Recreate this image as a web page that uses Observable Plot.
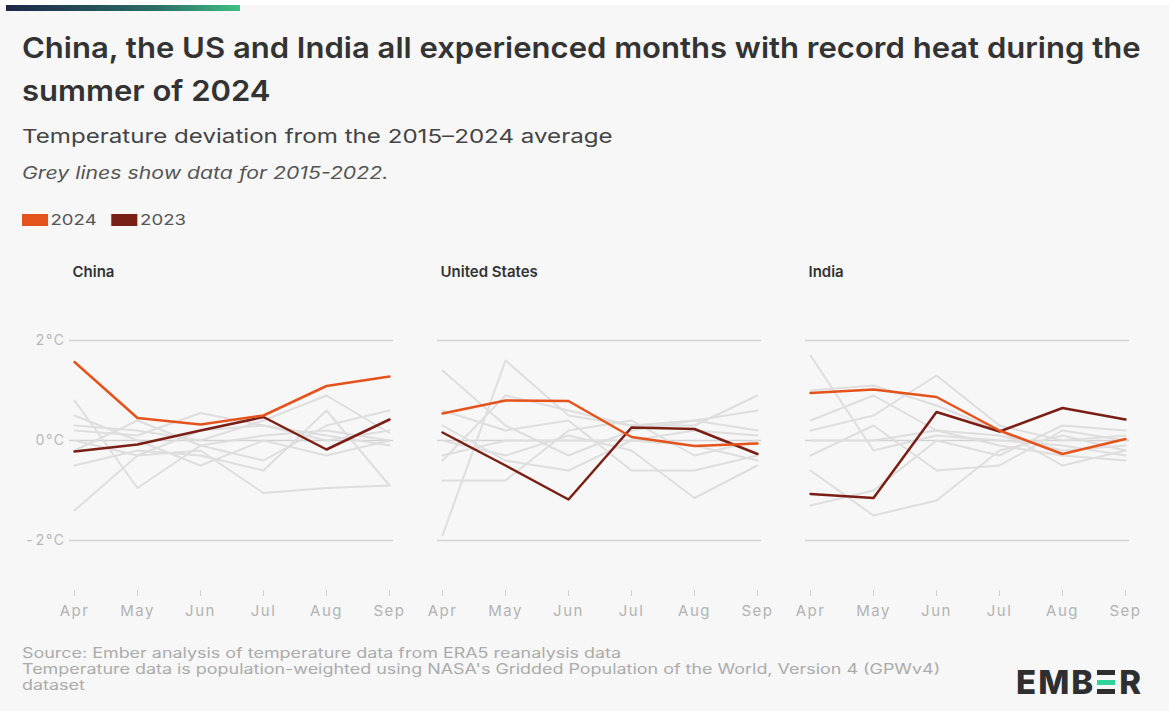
<!DOCTYPE html>
<html>
<head>
<meta charset="utf-8">
<script src="https://cdn.jsdelivr.net/npm/d3@7"></script>
<script src="https://cdn.jsdelivr.net/npm/@observablehq/plot@0.6"></script>
<style>
  html, body { margin:0; padding:0; background:#f7f7f7; }
  body { width:1169px; height:711px; position:relative; overflow:hidden; font-family: Inter, "Noto Sans", sans-serif; }
  .topbar { position:absolute; left:6px; top:5px; width:234px; height:6px; background:linear-gradient(90deg,#1d2748,#2b6f68 65%,#3fbf86); }
  .topwhite { position:absolute; left:0; top:0; width:1169px; height:5px; background:#fff; }
  .sx { transform-origin: 0 50%; white-space: nowrap; }
  .title { position:absolute; left:22px; top:26px; font-size:29px; font-weight:600; line-height:43px; color:#333; transform: scaleX(1.07); transform-origin: 0 0; white-space:nowrap; }
  .subtitle { position:absolute; left:22px; top:125px; font-size:19px; line-height:24px; color:#444; transform: scaleX(1.27); }
  .note { position:absolute; left:22px; top:162px; font-size:17px; line-height:22px; color:#555; font-style:italic; transform: scaleX(1.25); }
  .legend { position:absolute; left:22px; top:211px; font-size:15px; line-height:18px; color:#555; display:flex; align-items:center; transform: scaleX(1.24); }
  .legend .sw { display:inline-block; width:21px; height:12px; margin-right:2px; }
  .legend .item { display:flex; align-items:center; margin-right:12px; }
  #chart { position:absolute; left:0; top:250px; }
  #chart svg g[aria-label="x-axis tick label"] text { letter-spacing: 1.5px; }
  #chart svg g[aria-label="y-axis tick label"] text { letter-spacing: 1.5px; }
  #chart svg g[aria-label="panel-title"] text { letter-spacing: 1.2px; }
  .footer { position:absolute; left:22px; top:645px; font-size:14px; line-height:16px; color:#ababab; transform: scaleX(1.28); transform-origin: 0 0; white-space:nowrap; }
  .logo { position:absolute; left:1016px; top:664px; font-size:33px; font-weight:800; color:#2f2f2f; letter-spacing:2px; line-height:36px; display:flex; align-items:center; }
  .logo .e { display:inline-flex; flex-direction:column; justify-content:space-between; width:18px; height:24px; margin:0 4px 0 2px; }
  .logo .e span { display:block; height:5px; }
</style>
</head>
<body>
<div class="topwhite"></div>
<div class="topbar"></div>
<div class="title">China, the US and India all experienced months with record heat during the<br>summer of 2024</div>
<div class="subtitle sx">Temperature deviation from the 2015–2024 average</div>
<div class="note sx">Grey lines show data for 2015-2022.</div>
<div class="legend sx" id="legend"></div>
<div id="chart"></div>
<div class="footer">Source: Ember analysis of temperature data from ERA5 reanalysis data<br>Temperature data is population-weighted using NASA's Gridded Population of the World, Version 4 (GPWv4)<br>dataset</div>
<div class="logo">EMB<span class="e"><span style="background:#2f2f2f"></span><span style="background:#2fd39a"></span><span style="background:#2f2f2f"></span></span>R</div>
<script>
const months = ["Apr","May","Jun","Jul","Aug","Sep"];
const countries = ["China","United States","India"];
const greyYears = ["2015","2016","2017","2018","2019","2020","2021","2022"];
const highlightYears = ["2023","2024"];
const yTicks = [-2, 0, 2];

// Temperature deviation (°C), Apr..Sep
const china2024 = [1.57, 0.45, 0.32, 0.5, 1.09, 1.28];
const china2023 = [-0.22, -0.08, 0.2, 0.47, -0.18, 0.42];
const chinaGrey = [
  [-1.4, -0.3, 0.2, 0.3, 0.1, -0.1],
  [0.8, -0.95, -0.1, 0.1, 0.2, 0.0],
  [0.2, 0.1, 0.55, 0.3, 0.0, 0.2],
  [0.3, 0.2, 0.0, 0.4, 0.9, 0.15],
  [0.0, -0.3, -0.2, -1.05, -0.95, -0.9],
  [-0.5, -0.2, -0.3, -0.6, 0.6, -0.9],
  [0.5, 0.0, -0.5, 0.0, -0.3, 0.0],
  [-0.2, 0.4, -0.1, -0.4, 0.3, 0.6]
];
const us2024 = [0.54, 0.8, 0.79, 0.07, -0.11, -0.06];
const us2023 = [0.16, -0.5, -1.18, 0.26, 0.23, -0.27];
const usGrey = [
  [-1.9, 1.6, 0.5, 0.3, 0.3, 0.9],
  [1.4, 0.3, -0.3, 0.2, 0.4, 0.2],
  [-0.8, -0.8, 0.2, 0.4, -0.3, 0.0],
  [-0.4, 0.9, 0.6, 0.3, 0.4, 0.6],
  [0.3, -0.4, -0.6, 0.0, -0.1, -0.4],
  [0.0, -0.3, 0.1, -0.2, -1.15, -0.5],
  [0.6, 0.2, 0.4, -0.6, -0.6, -0.3],
  [-0.3, 0.0, 0.0, 0.0, 0.2, 0.1]
];
const india2024 = [0.95, 1.02, 0.87, 0.2, -0.27, 0.03];
const india2023 = [-1.07, -1.15, 0.57, 0.18, 0.65, 0.42];
const indiaGrey = [
  [1.7, -0.2, 0.1, 0.0, -0.1, -0.3],
  [0.2, 0.5, 1.3, 0.3, 0.0, 0.1],
  [-0.6, -1.5, -1.2, -0.2, 0.1, -0.2],
  [-0.3, 0.3, -0.6, -0.5, 0.2, 0.0],
  [0.4, 0.9, 0.2, -0.1, -0.3, -0.4],
  [-1.3, -1.0, 0.0, -0.3, 0.3, 0.2],
  [0.0, 0.0, 0.2, 0.1, -0.2, -0.1],
  [1.0, 1.1, 0.7, 0.2, -0.5, -0.2]
];

const colors = {"2024": "#e5531d", "2023": "#7a1f15"};
const greyColor = "#dedede";

const series = {
  "China": {grey: chinaGrey, "2023": china2023, "2024": china2024},
  "United States": {grey: usGrey, "2023": us2023, "2024": us2024},
  "India": {grey: indiaGrey, "2023": india2023, "2024": india2024}
};

const rows = [];
for (const c of countries) {
  series[c].grey.forEach((vals, i) => vals.forEach((v, j) => rows.push({country: c, year: greyYears[i], month: months[j], value: v, grey: true})));
  for (const y of highlightYears) series[c][y].forEach((v, j) => rows.push({country: c, year: y, month: months[j], value: v, grey: false}));
}

// legend
const legend = document.getElementById("legend");
for (const y of ["2024", "2023"]) {
  const it = document.createElement("div");
  it.className = "item";
  it.innerHTML = `<span class="sw" style="background:${colors[y]}"></span><span>${y}</span>`;
  legend.appendChild(it);
}

const chart = Plot.plot({
  width: 1169,
  height: 372,
  marginLeft: 68,
  marginRight: 38,
  marginTop: 40,
  marginBottom: 32,
  style: {background: "transparent", fontFamily: "Inter, 'Noto Sans', sans-serif"},
  fx: {domain: countries, padding: 0.119, axis: null},
  x: {type: "point", domain: months, padding: 0.06},
  y: {domain: [-3, 3]},
  marks: [
    Plot.ruleY(yTicks, {stroke: "#d2d2d2", strokeWidth: 1.5}),
    Plot.axisY({ticks: yTicks, tickFormat: d => `${d}°C`, tickSize: 0, tickPadding: 4, fontSize: 14, color: "#b8b8b8", label: null}),
    Plot.axisX({tickSize: 6, tickPadding: 9, fontSize: 15, color: "#b3b3b3", stroke: "#d0d0d0", label: null}),
    Plot.lineY(rows.filter(d => d.grey), {fx: "country", x: "month", y: "value", z: "year", stroke: greyColor, strokeWidth: 2}),
    Plot.lineY(rows.filter(d => d.year === "2023"), {fx: "country", x: "month", y: "value", stroke: colors["2023"], strokeWidth: 2.5}),
    Plot.lineY(rows.filter(d => d.year === "2024"), {fx: "country", x: "month", y: "value", stroke: colors["2024"], strokeWidth: 2.5}),
    Plot.text(countries, {fx: d => d, text: d => d, frameAnchor: "top-left", dx: 3, dy: -24, fontSize: 15, fontWeight: 600, fill: "#333", ariaLabel: "panel-title"})
  ]
});
document.getElementById("chart").appendChild(chart);
</script>
</body>
</html>
